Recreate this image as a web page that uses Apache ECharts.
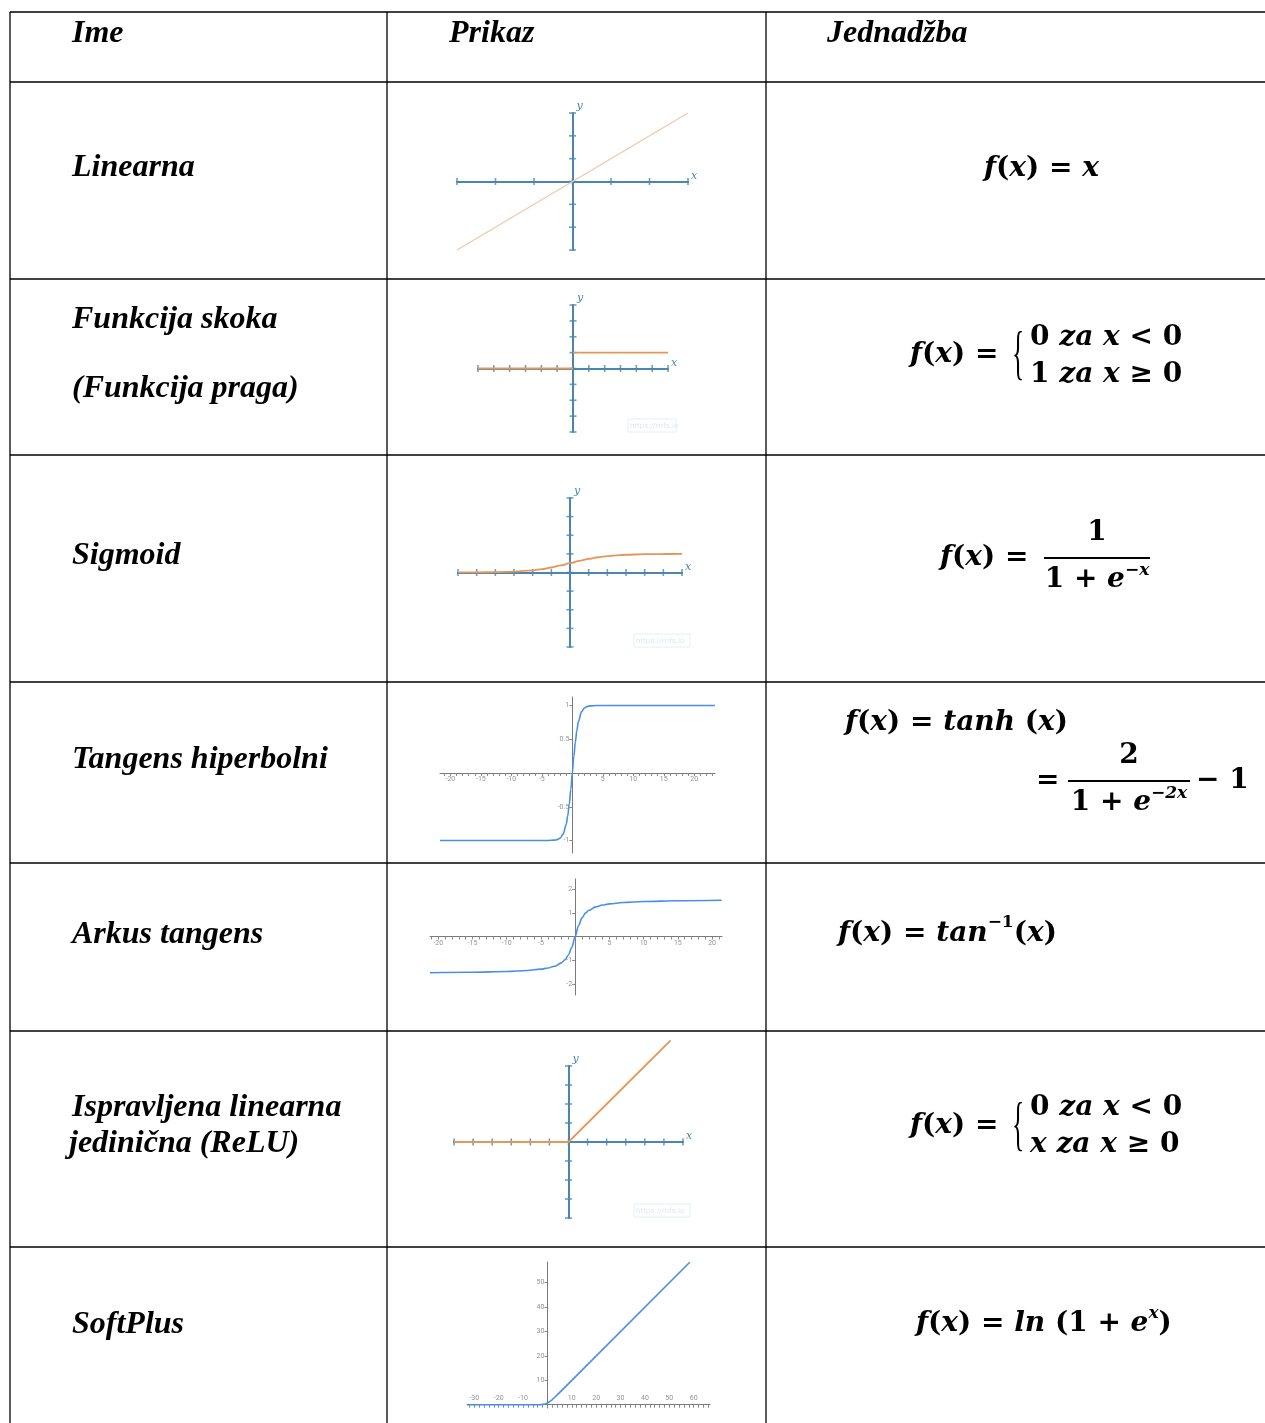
<!doctype html>
<html lang="hr">
<head>
<meta charset="UTF-8">
<title>Aktivacijske funkcije</title>
<script src="https://cdn.jsdelivr.net/npm/echarts@6/dist/echarts.min.js"></script>
<style>
    html, body { margin: 0; padding: 0; background: #fff; }
    #main { width: 1265px; height: 1423px; }
</style>
</head>
<body>
<div id="main"></div>
<script type="text/javascript">
    // nazivi redaka tablice
    var headers = ['Ime', 'Prikaz', 'Jednadžba'];
    var names = ['Linearna', 'Funkcija skoka', '(Funkcija praga)', 'Sigmoid', 'Tangens hiperbolni',
        'Arkus tangens', 'Ispravljena linearna', 'jedinična (ReLU)', 'SoftPlus'];

    // podaci za grafove (očitani sa slike)
    var linX = [-3, 3];
    var linY = [-3, 3];
    var stepLeftX = [-6, 0];
    var stepLeftY = [0, 0];
    var stepRightX = [0, 6];
    var stepRightY = [1, 1];
    var sigX = [-6, -5, -4, -3, -2, -1.5, -1, -0.5, 0, 0.5, 1, 1.5, 2, 3, 4, 5, 6];
    var sigY = [0.002, 0.007, 0.018, 0.047, 0.119, 0.182, 0.269, 0.378, 0.5, 0.622, 0.731, 0.818, 0.881, 0.953, 0.982, 0.993, 0.998];
    var tanhX = [-21.7, -4, -3, -2.5, -2, -1.5, -1, -0.75, -0.5, -0.25, 0, 0.25, 0.5, 0.75, 1, 1.5, 2, 2.5, 3, 4, 23.4];
    var tanhY = [-1, -0.999, -0.995, -0.987, -0.964, -0.905, -0.762, -0.635, -0.462, -0.245, 0, 0.245, 0.462, 0.635, 0.762, 0.905, 0.964, 0.987, 0.995, 0.999, 1];
    var atanX = [-21.2, -15, -10, -7, -5, -4, -3, -2, -1.5, -1, -0.5, 0, 0.5, 1, 1.5, 2, 3, 4, 5, 7, 10, 15, 21.4];
    var atanY = [-1.524, -1.504, -1.471, -1.429, -1.373, -1.326, -1.249, -1.107, -0.983, -0.785, -0.464, 0, 0.464, 0.785, 0.983, 1.107, 1.249, 1.326, 1.373, 1.429, 1.471, 1.504, 1.524];
    var reluX = [-6, 0, 5.35];
    var reluY = [0, 0, 5.35];
    var softX = [-33, -10, -5, -3, -2, -1, 0, 1, 2, 3, 4, 6, 10, 58.4];
    var softY = [0, 0, 0.007, 0.049, 0.127, 0.313, 0.693, 1.313, 2.127, 3.049, 4.018, 6.002, 10, 58.4];

    // oznake na osima
    var ticks3 = [-3, -2, -1, 0, 1, 2, 3];
    var ticks4 = [-4, -3, -2, -1, 0, 1, 2, 3, 4];
    var ticks6 = [-6, -5, -4, -3, -2, -1, 0, 1, 2, 3, 4, 5, 6];
    var labels5 = [-20, -15, -10, -5, 5, 10, 15, 20];
    var tanhYLabels = [-1, -0.5, 0.5, 1];
    var atanYLabels = [-2, -1, 1, 2];
    var softXLabels = [-30, -20, -10, 10, 20, 30, 40, 50, 60];
    var softYLabels = [10, 20, 30, 40, 50];

    var axisBlue = '#4b87ac';
    var orange = '#e5975a';
    var gBlue = '#4a8fe6';

    var zip = function (xs, ys) {
        return xs.map(function (x, i) { return [x, ys[i]]; });
    };
    var range = function (a, b, s) {
        var r = [];
        for (var v = a; v <= b; v += s) r.push(v);
        return r;
    };

    // mreže (pozicije slika u tablici)
    var grids = [
        {left: 457, top: 113, width: 231, height: 137},
        {left: 478, top: 305, width: 190, height: 127},
        {left: 458, top: 498, width: 224, height: 149},
        {left: 440, top: 697, width: 275, height: 156},
        {left: 430, top: 879, width: 292, height: 116},
        {left: 454, top: 1066, width: 229, height: 152},
        {left: 467, top: 1262, width: 243, height: 146}
    ];
    grids.forEach(function (g) { g.containLabel = false; g.outerBoundsMode = 'none'; });

    // osi u stilu "mfs.io" grafova
    var mathX = function (gi, min, max) {
        return {
            gridIndex: gi, type: 'value', min: min, max: max,
            axisLine: {onZero: true, lineStyle: {color: axisBlue, width: 2}},
            axisTick: {show: false}, axisLabel: {show: false}, splitLine: {show: false},
            name: 'x', nameLocation: 'end', nameGap: 3,
            nameTextStyle: {color: axisBlue, fontFamily: 'DejaVu Serif', fontStyle: 'italic', fontSize: 11, verticalAlign: 'bottom', align: 'left'}
        };
    };
    var mathY = function (gi, min, max) {
        return {
            gridIndex: gi, type: 'value', min: min, max: max,
            axisLine: {onZero: true, lineStyle: {color: axisBlue, width: 2}},
            axisTick: {show: false}, axisLabel: {show: false}, splitLine: {show: false},
            name: 'y', nameLocation: 'end', nameGap: 1,
            nameTextStyle: {color: axisBlue, fontFamily: 'DejaVu Serif', fontStyle: 'italic', fontSize: 11, align: 'left', padding: [0, 0, 0, 4]}
        };
    };
    // osi u stilu google grafova (oznake se crtaju posebno, uz nulu)
    var gAxis = function (gi, min, max, ticks) {
        return {
            gridIndex: gi, type: 'value', min: min, max: max,
            axisLine: {onZero: true, lineStyle: {color: '#7a7a7a', width: 1}},
            axisTick: {show: true, customValues: ticks, length: 3, lineStyle: {color: '#8a8a8a'}},
            axisLabel: {show: false, customValues: ticks},
            splitLine: {show: false}
        };
    };

    var xAxes = [
        mathX(0, -3, 3), mathX(1, -6, 6), mathX(2, -6, 6),
        gAxis(3, -21.7, 23.4, range(-21, 23, 1)),
        gAxis(4, -21.2, 21.45, range(-21, 21, 1)),
        mathX(5, -6, 6),
        gAxis(6, -33, 66.7, range(-32, 66, 2))
    ];
    var yAxes = [
        mathY(0, -3, 3), mathY(1, -4, 4), mathY(2, -4, 4),
        gAxis(3, -1.185, 1.126, tanhYLabels),
        gAxis(4, -2.46, 2.42, atanYLabels),
        mathY(5, -4, 4),
        gAxis(6, -1.35, 58.5, softYLabels)
    ];

    var tickSeries = function (gi, xs, ys) {
        var d = xs.map(function (v) { return {value: [v, 0], symbolSize: [1.6, 7]}; })
            .concat(ys.map(function (v) { return {value: [0, v], symbolSize: [7, 1.6]}; }));
        return {type: 'scatter', xAxisIndex: gi, yAxisIndex: gi, symbol: 'rect', data: d, silent: true,
            itemStyle: {color: axisBlue}, z: 2};
    };
    // brojevi na osima google grafova, postavljeni uz os kroz nulu
    var valueLabels = function (gi, values, dim, position) {
        return {
            type: 'scatter', xAxisIndex: gi, yAxisIndex: gi, symbolSize: 0, silent: true, z: 3,
            data: values.map(function (v) { return dim === 'x' ? [v, 0] : [0, v]; }),
            label: {
                show: true, position: position, distance: 3, fontSize: 7, color: '#777', fontFamily: 'Roboto',
                formatter: function (p) { return String(dim === 'x' ? p.value[0] : p.value[1]); }
            }
        };
    };
    var curve = function (gi, data, color, width, smooth) {
        return {type: 'line', xAxisIndex: gi, yAxisIndex: gi, data: data, showSymbol: false, silent: true,
            smooth: smooth ? 0.35 : false, smoothMonotone: 'x', clip: false, z: 4,
            lineStyle: {color: color, width: width}};
    };

    var series = [
        tickSeries(0, ticks3, ticks3),
        curve(0, zip(linX, linY), '#f1caa9', 1.4),
        tickSeries(1, ticks6, ticks4),
        curve(1, zip(stepLeftX, stepLeftY), orange, 1.8),
        curve(1, zip(stepRightX, stepRightY), orange, 1.8),
        tickSeries(2, ticks6, ticks4),
        curve(2, zip(sigX, sigY), orange, 1.8, true),
        valueLabels(3, labels5, 'x', 'bottom'),
        valueLabels(3, tanhYLabels, 'y', 'left'),
        curve(3, zip(tanhX, tanhY), gBlue, 1.6, true),
        valueLabels(4, labels5, 'x', 'bottom'),
        valueLabels(4, atanYLabels, 'y', 'left'),
        curve(4, zip(atanX, atanY), gBlue, 1.6, true),
        tickSeries(5, ticks6, ticks4),
        curve(5, zip(reluX, reluY), orange, 1.8),
        valueLabels(6, softXLabels, 'x', 'top'),
        valueLabels(6, softYLabels, 'y', 'left'),
        curve(6, zip(softX, softY), gBlue, 1.6)
    ];

    // ---------- tablica i tekst ----------
    var graphic = [];
    var hLines = [12, 82, 279, 455, 682, 863, 1031, 1247];
    hLines.forEach(function (y) {
        graphic.push({type: 'line', shape: {x1: 10, y1: y, x2: 1265, y2: y}, style: {stroke: '#000', lineWidth: 1.3}, silent: true});
    });
    [10, 387, 766].forEach(function (x) {
        graphic.push({type: 'line', shape: {x1: x, y1: 12, x2: x, y2: 1423}, style: {stroke: '#000', lineWidth: 1.3}, silent: true});
    });

    var label = function (x, y, s) {
        graphic.push({type: 'text', x: x, y: y + 1, z: 10, silent: true,
            style: {text: s, fontFamily: 'Liberation Serif', fontSize: 32, fontWeight: 'bold', fontStyle: 'italic',
                fill: '#000', align: 'left', verticalAlign: 'middle'}});
    };
    label(72, 33, headers[0]);
    label(449, 33, headers[1]);
    label(827, 33, headers[2]);
    label(72, 167, names[0]);
    label(72, 319, names[1]);
    label(72, 388, names[2]);
    label(72, 555, names[3]);
    label(72, 759, names[4]);
    label(72, 934, names[5]);
    label(72, 1107, names[6]);
    label(69, 1143, names[7]);
    label(72, 1324, names[8]);

    // vodeni žigovi sa slika
    [[628, 419, 48], [634, 634, 56], [634, 1204, 56]].forEach(function (w) {
        graphic.push({type: 'rect', shape: {x: w[0], y: w[1], width: w[2], height: 13}, silent: true,
            style: {fill: 'none', stroke: '#e3eef6', lineWidth: 1}});
        graphic.push({type: 'text', x: w[0] + 2, y: w[1] + 7, silent: true,
            style: {text: 'https://mfs.io', fontSize: 8, fill: '#dde9f2', fontFamily: 'Roboto', verticalAlign: 'middle'}});
    });

    // jednadžbe
    var EQ = 28;
    var ctx = document.createElement('canvas').getContext('2d');
    var fontOf = function (kind) {
        var sup = kind.charAt(0) === 's';
        var fs = sup ? Math.round(EQ * 0.62) : EQ;
        return {size: fs, italic: kind.indexOf('i') >= 0, sup: sup};
    };
    var measure = function (parts) {
        var w = 0;
        parts.forEach(function (p) {
            var f = fontOf(p[1]);
            ctx.font = (f.italic ? 'italic ' : '') + 'bold ' + f.size + 'px "DejaVu Serif"';
            w += ctx.measureText(p[0]).width;
        });
        return w;
    };
    var mathLine = function (x0, y, parts, supRaise) {
        var x = x0;
        var raise = supRaise || 0.42;
        y += 2;
        parts.forEach(function (p) {
            var f = fontOf(p[1]);
            ctx.font = (f.italic ? 'italic ' : '') + 'bold ' + f.size + 'px "DejaVu Serif"';
            graphic.push({type: 'text', x: x, y: f.sup ? y - EQ * raise : y, z: 10, silent: true,
                style: {text: p[0], fontFamily: 'DejaVu Serif', fontSize: f.size, fontWeight: 'bold',
                    fontStyle: f.italic ? 'italic' : 'normal', fill: '#000', align: 'left', verticalAlign: 'middle'}});
            x += ctx.measureText(p[0]).width;
        });
        return x;
    };
    var mathCenter = function (cx, y, parts, supRaise) {
        return mathLine(cx - measure(parts) / 2, y, parts, supRaise);
    };
    var bar = function (x1, x2, y) {
        graphic.push({type: 'line', shape: {x1: x1, y1: y + 2, x2: x2, y2: y + 2}, style: {stroke: '#000', lineWidth: 2}, silent: true});
    };
    var brace = function (x, y) {
        graphic.push({type: 'text', x: x, y: y + 2, scaleX: 0.75, scaleY: 1.75, z: 10, silent: true,
            style: {text: '{', fontFamily: 'Liberation Serif', fontSize: 34, fill: '#000', align: 'left', verticalAlign: 'middle'}});
    };
    var FX = [['f', 'i'], ['(', 'r'], ['x', 'i'], [')', 'r'], [' = ', 'r']];

    // linearna
    mathLine(984, 167, FX.concat([['x', 'i']]));
    // funkcija skoka
    mathLine(910, 353, FX);
    brace(1012, 354);
    mathLine(1030, 336, [['0', 'r'], [' za ', 'i'], ['x', 'i'], [' < ', 'r'], ['0', 'r']]);
    mathLine(1030, 373, [['1', 'r'], [' za ', 'i'], ['x', 'i'], [' ≥ ', 'r'], ['0', 'r']]);
    // sigmoid
    mathLine(940, 556, FX);
    bar(1044, 1150, 556);
    mathCenter(1097, 531, [['1', 'r']]);
    mathCenter(1097, 578, [['1', 'r'], [' + ', 'r'], ['e', 'i'], ['−x', 'si']], 0.33);
    // tangens hiperbolni
    mathLine(845, 721, FX.concat([['tanh', 'i'], [' (', 'r'], ['x', 'i'], [')', 'r']]));
    mathLine(1036, 779, [['=', 'r']]);
    bar(1068, 1190, 779);
    mathCenter(1129, 754, [['2', 'r']]);
    mathCenter(1129, 801, [['1', 'r'], [' + ', 'r'], ['e', 'i'], ['−2x', 'si']], 0.33);
    mathLine(1196, 779, [['− 1', 'r']]);
    // arkus tangens
    mathLine(838, 932, FX.concat([['tan', 'i'], ['−1', 'sr'], ['(', 'r'], ['x', 'i'], [')', 'r']]));
    // ReLU
    mathLine(910, 1124, FX);
    brace(1012, 1125);
    mathLine(1030, 1106, [['0', 'r'], [' za ', 'i'], ['x', 'i'], [' < ', 'r'], ['0', 'r']]);
    mathLine(1030, 1143, [['x', 'i'], [' za ', 'i'], ['x', 'i'], [' ≥ ', 'r'], ['0', 'r']]);
    // softplus
    mathLine(916, 1322, FX.concat([['ln', 'i'], [' (', 'r'], ['1', 'r'], [' + ', 'r'], ['e', 'i'], ['x', 'si'], [')', 'r']]), 0.36);

    var myChart = echarts.init(document.getElementById('main'), null, {renderer: 'canvas'});
    var option = {
        backgroundColor: '#fff',
        animation: false,
        grid: grids,
        xAxis: xAxes,
        yAxis: yAxes,
        series: series,
        graphic: graphic
    };
    myChart.setOption(option);
</script>
</body>
</html>
